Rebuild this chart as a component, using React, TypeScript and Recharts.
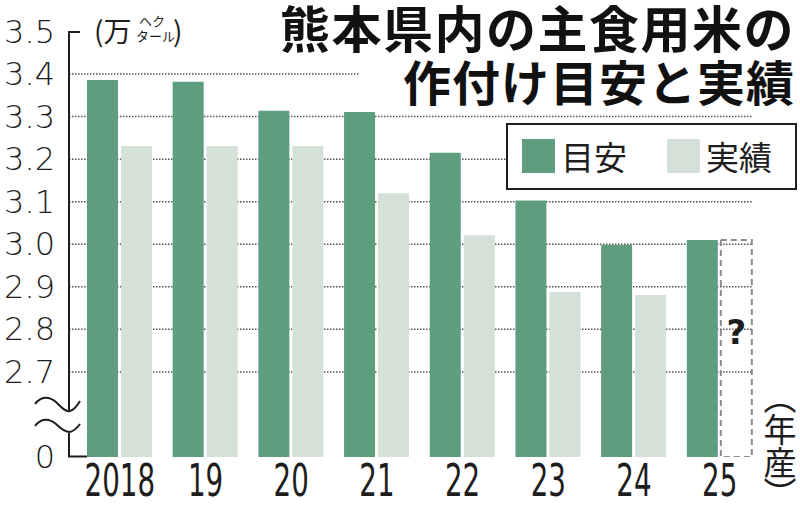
import React from "react";
import { Bar, BarChart, CartesianGrid, Cell, LabelList, XAxis, YAxis } from "recharts";

const years = ["2018", "19", "20", "21", "22", "23", "24", "25"];
// 万ヘクタール
const target = [3.386, 3.382, 3.314, 3.311, 3.215, 3.103, 2.998, 3.01];
const actual = [3.231, 3.231, 3.231, 3.12, 3.021, 2.888, 2.881, null];
const yTicks = [2.5, 2.7, 2.8, 2.9, 3.0, 3.1, 3.2, 3.3, 3.4, 3.5];
const gridValues = [2.7, 2.8, 2.9, 3.0, 3.1, 3.2, 3.3, 3.4];

const DARK = "#5f9d7f";
const LIGHT = "#d3e1d9";
const INK = "#1e1e1e";
const NUM_FONT = "'DejaVu Sans', sans-serif";
const JP_FONT = "'Noto Sans CJK JP', sans-serif";

const data = years.map((year, i) => ({
  year,
  target: target[i],
  actual: actual[i] ?? target[i], // unknown yet -> dashed outline at the target height
  pending: actual[i] == null,
}));

const YTick = ({ x, y, payload }: any) => (
  <text
    x={x}
    y={y}
    textAnchor="end"
    dominantBaseline="central"
    fontSize={32}
    fontFamily={NUM_FONT}
    fontWeight={200}
    fill={INK}
  >
    {payload.value === 2.5 ? "0" : payload.value.toFixed(1)}
  </text>
);

const XTick = ({ x, y, payload }: any) => (
  <g transform={`translate(${x},${y}) scale(0.63,1)`}>
    <text
      x={0}
      y={0}
      textAnchor="middle"
      dominantBaseline="central"
      fontSize={44}
      fontFamily={NUM_FONT}
      fill={INK}
    >
      {payload.value}
    </text>
  </g>
);

const QuestionMark = (props: any) => {
  const { x, y, width, height, index } = props;
  if (!data[index]?.pending) return null;
  return (
    <text
      x={x + width / 2}
      y={y + height / 2 - 16}
      textAnchor="middle"
      dominantBaseline="central"
      fontSize={34}
      fontWeight={700}
      fontFamily={NUM_FONT}
      fill={INK}
    >
      ?
    </text>
  );
};

function Legend() {
  const item = (color: string, label: string, left: number) => (
    <div style={{ position: "absolute", left, top: 13, display: "flex", alignItems: "center" }}>
      <div style={{ width: 33, height: 34, background: color }} />
      <span style={{ marginLeft: 6, fontSize: 33, lineHeight: "36px", fontFamily: JP_FONT, color: INK }}>
        {label}
      </span>
    </div>
  );
  return (
    <div
      style={{
        position: "absolute",
        left: 506,
        top: 123,
        width: 287,
        height: 63,
        border: `2px solid ${INK}`,
        background: "#fff",
      }}
    >
      {item(DARK, "目安", 14)}
      {item(LIGHT, "実績", 159)}
    </div>
  );
}

export default function App() {
  return (
    <div style={{ position: "absolute", left: 0, top: 0, width: 800, height: 506, background: "#fff", overflow: "hidden" }}>
      <BarChart
        width={800}
        height={506}
        data={data}
        margin={{ top: 31.5, right: 48, bottom: 0, left: 0 }}
        barCategoryGap={10}
        barGap={3}
      >
        <CartesianGrid
          vertical={false}
          horizontalValues={gridValues}
          stroke="#555"
          strokeWidth={1.5}
          strokeDasharray="1.5 1.5"
        />
        <XAxis
          dataKey="year"
          axisLine={false}
          tickLine={false}
          tickSize={0}
          tickMargin={24}
          height={49}
          padding={{ left: 8, right: -10.5 }}
          tick={<XTick />}
          interval={0}
        />
        <YAxis
          domain={[2.5, 3.5]}
          ticks={yTicks}
          allowDataOverflow
          width={69}
          tickSize={0}
          tickMargin={14}
          tickLine={false}
          axisLine={{ stroke: INK, strokeWidth: 2 }}
          tick={<YTick />}
          interval={0}
        />
        <Bar dataKey="target" name="目安" fill={DARK} isAnimationActive={false} />
        <Bar dataKey="actual" name="実績" fill={LIGHT} isAnimationActive={false}>
          {data.map((d) => (
            <Cell
              key={d.year}
              fill={d.pending ? "none" : LIGHT}
              stroke={d.pending ? "#8c8c8c" : "none"}
              strokeWidth={d.pending ? 2 : 0}
              strokeDasharray={d.pending ? "6 4" : undefined}
            />
          ))}
          <LabelList dataKey="actual" content={<QuestionMark />} />
        </Bar>
      </BarChart>

      {/* axis decorations: top/bottom stubs, broken-axis marks, unit */}
      <svg width={800} height={506} style={{ position: "absolute", left: 0, top: 0, pointerEvents: "none" }}>
        <line x1={68} y1={32} x2={80} y2={32} stroke={INK} strokeWidth={2} />
        <line x1={68} y1={456.5} x2={87} y2={456.5} stroke={INK} strokeWidth={2} />
        <rect x={60} y={410} width={18} height={23} fill="#fff" />
        <path d="M35,404 C41,396 49,396 56,402 C62,408 66,412 70,411 C74,410 77,406 80,401" fill="none" stroke={INK} strokeWidth={2} />
        <path d="M35,426 C41,418 49,418 56,424 C61,429 66,432 70,432 C74,431 77,428 80,424" fill="none" stroke={INK} strokeWidth={2} />
        <text x={94} y={42} fontSize={28} fontFamily={JP_FONT} fill={INK}>(万</text>
        <text x={139} y={26} fontSize={13} fontFamily={JP_FONT} fill={INK}>ヘク</text>
        <text x={136} y={41} fontSize={13} fontFamily={JP_FONT} fill={INK}>タール</text>
        <text x={173} y={42} fontSize={28} fontFamily={JP_FONT} fill={INK}>)</text>
      </svg>

      <div
        style={{
          position: "absolute",
          left: 763,
          top: 396,
          writingMode: "vertical-rl",
          fontFamily: JP_FONT,
          fontSize: 33,
          lineHeight: "34px",
          color: INK,
          fontFeatureSettings: "'vpal'",
        }}
      >
        （年産）
      </div>

      <div
        style={{
          position: "absolute",
          left: 260,
          top: 0,
          width: 535,
          height: 53,
          background: "#fff",
          textAlign: "right",
          fontFamily: JP_FONT,
          fontWeight: 700,
          fontSize: 50,
          lineHeight: "53px",
          color: "#111",
          letterSpacing: 1.5,
        }}
      >
        熊本県内の主食用米の
      </div>
      <div
        style={{
          position: "absolute",
          left: 360,
          top: 53,
          width: 435,
          height: 55,
          background: "#fff",
          textAlign: "right",
          fontFamily: JP_FONT,
          fontWeight: 700,
          fontSize: 48,
          lineHeight: "55px",
          color: "#111",
          letterSpacing: 1,
        }}
      >
        作付け目安と実績
      </div>

      <Legend />
    </div>
  );
}
